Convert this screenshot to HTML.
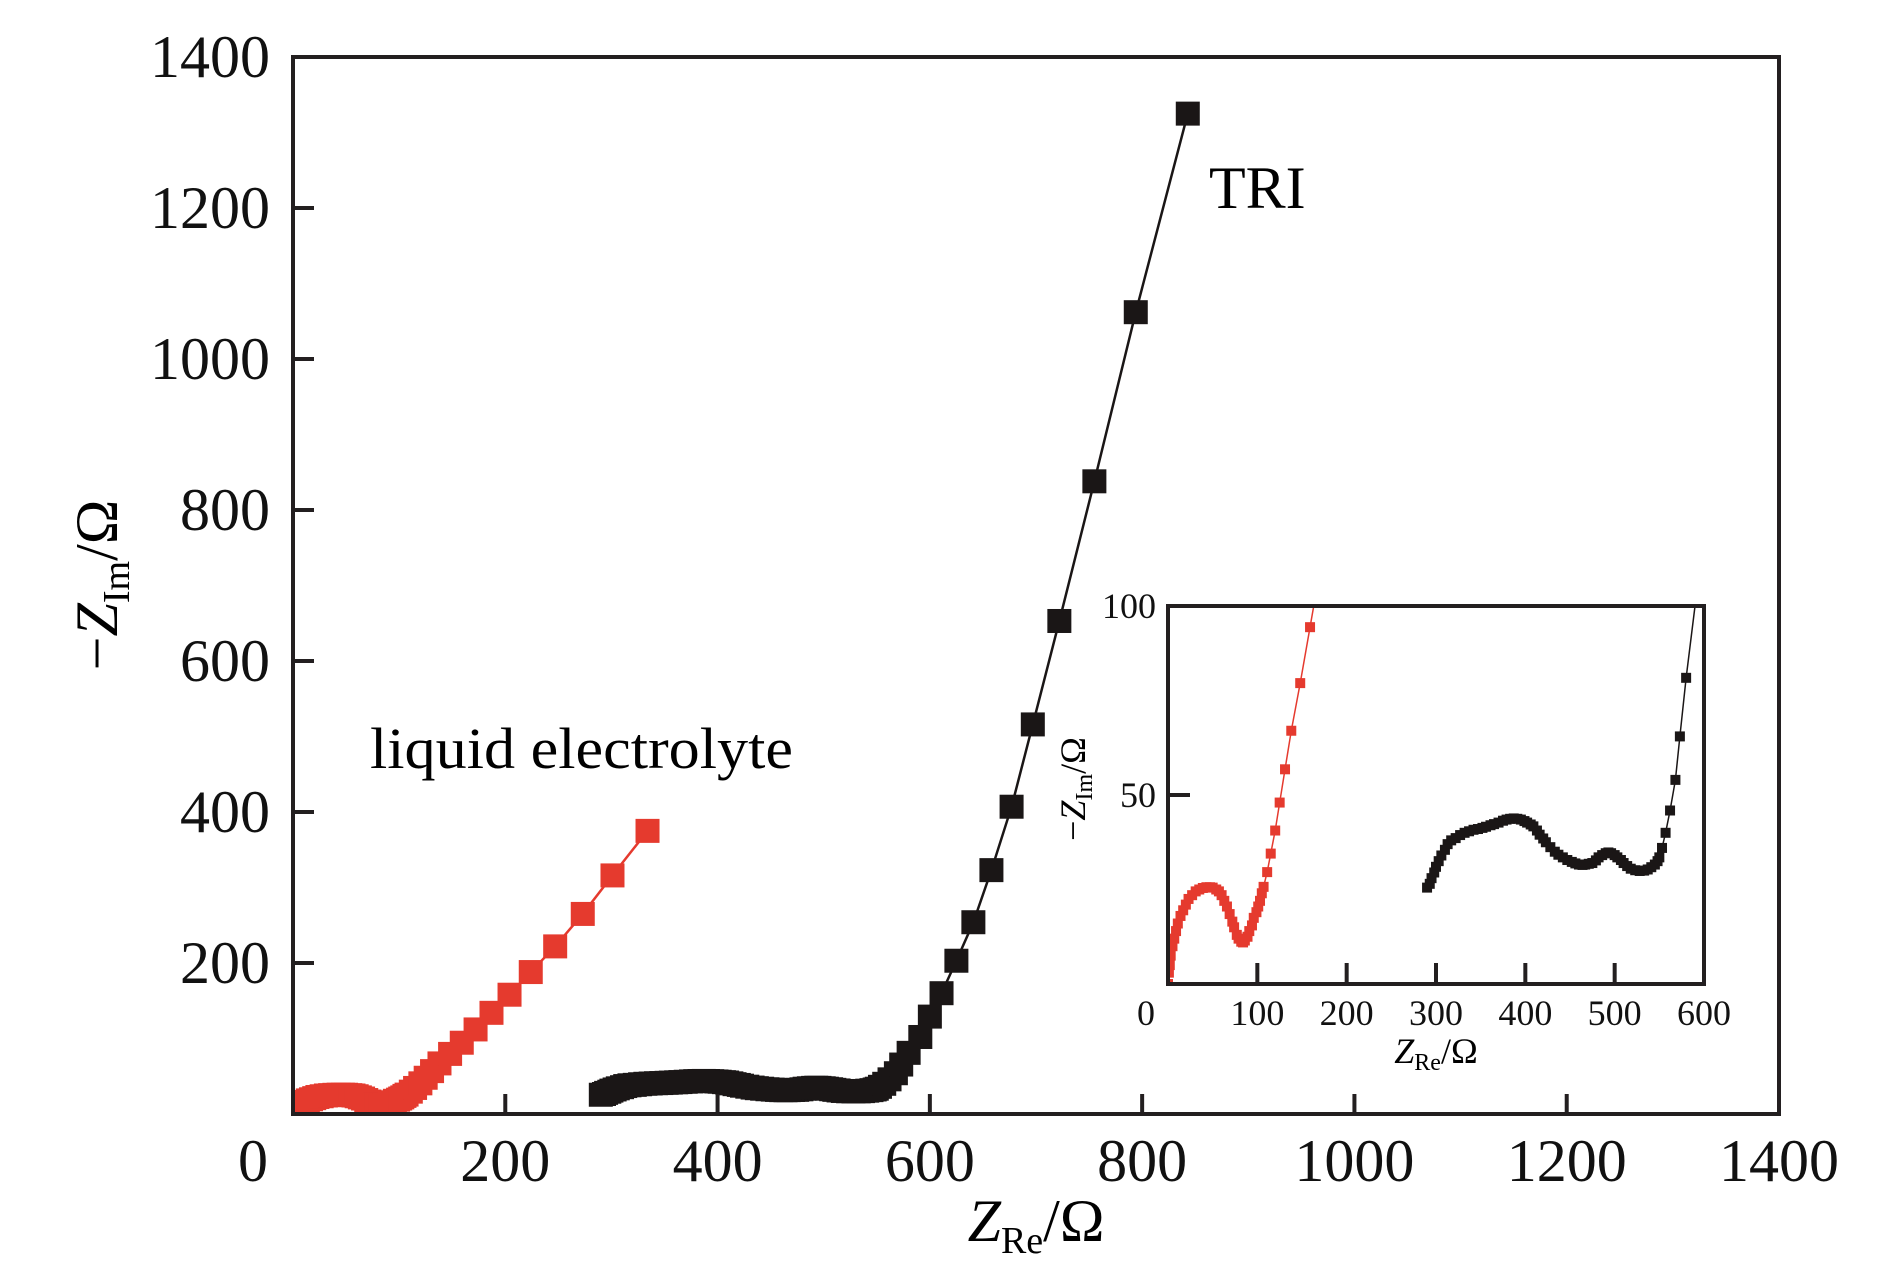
<!DOCTYPE html>
<html><head><meta charset="utf-8"><style>
html,body{margin:0;padding:0;background:#fff;}
svg{display:block;font-family:"Liberation Serif",serif;}
</style></head><body>
<svg id="chart" width="1890" height="1276" viewBox="0 0 1890 1276" xmlns="http://www.w3.org/2000/svg">
<g id="main"></g>
<g id="inset"></g>
<text x="1209" y="208" font-size="60">TRI</text>
<text x="370" y="768" font-size="58" textLength="423" lengthAdjust="spacingAndGlyphs">liquid electrolyte</text>
<text x="1036" y="1241" font-size="60" text-anchor="middle"><tspan font-style="italic">Z</tspan><tspan font-size="38" dy="12">Re</tspan><tspan dy="-12">/Ω</tspan></text>
<text transform="translate(117,585) rotate(-90)" font-size="60" text-anchor="middle">−<tspan font-style="italic">Z</tspan><tspan font-size="38" dy="12">Im</tspan><tspan dy="-12">/Ω</tspan></text>
<text x="1436" y="1063" font-size="36" text-anchor="middle"><tspan font-style="italic">Z</tspan><tspan font-size="24" dy="7">Re</tspan><tspan dy="-7">/Ω</tspan></text>
<text transform="translate(1085,789) rotate(-90)" font-size="36" text-anchor="middle">−<tspan font-style="italic">Z</tspan><tspan font-size="24" dy="7">Im</tspan><tspan dy="-7">/Ω</tspan></text>
</svg>
<script>
const xTicks=[0,200,400,600,800,1000,1200,1400];
const yTicks=[200,400,600,800,1000,1200,1400];
const insetXTicks=[0,100,200,300,400,500,600];
const insetYTicks=[0,50,100];
const redX=[0,1,2,3,5,7,9,11,14,17,20,23,27,31,35,39,43,47,50,54,57,60,63,66,69,72,74,77,79,82,84,86,89,91,94,96,99,101,103,105,107,111,115,120,125,131,138,148,159,172,187,204,224,247,273,301,334];
const redY=[0,3,5,7.5,10,12,14,16,18,19.5,21,22.5,23.5,24.5,25,25.4,25.6,25.6,25.5,25,24.5,23.5,22,20.5,18.5,16.5,15,13,12,11.2,11,11.5,12.5,14,15.5,17.5,19,20.5,22,24,25.7,29.6,34.5,40.6,48,56.8,67,79.6,94.4,112,134,158,188,222,265,316,375];
const blackX=[290,293,295,298,300,303,306,310,313,317,322,327,332,337,342,347,352,356,361,365,370,375,379,383,387,391,395,399,402,406,409,413,416,420,423,428,433,437,442,447,452,456,460,464,467,471,475,479,482,486,490,493,496,500,503,507,510,514,518,523,528,533,537,541,545,548,550,553,557,562,568,573,580,591,600,611,625,641,658,677,697,722,755,794,843];
const blackY=[25.5,26.5,28,29.5,31,32.5,34,35.5,37,38,38.6,39.4,40,40.4,40.8,41,41.3,41.6,42,42.3,42.7,43.2,43.5,43.7,43.8,43.7,43.5,43.1,42.7,42.2,41.7,40.6,39.5,38.5,37.5,36.2,35,34.2,33.5,32.8,32.3,31.9,31.6,31.5,31.6,31.8,32,32.7,33.5,34.1,34.6,34.8,34.6,34.1,33.5,32.8,32,31.2,30.5,30.1,29.9,30,30.3,30.9,31.6,32.5,33.5,36,40,45.9,54,65.5,81,102,129,160,203,254,323,407,516,653,838,1062,1325];

const NS='http://www.w3.org/2000/svg';
function mk(parent,tag,attrs){const e=document.createElementNS(NS,tag);for(const k in attrs)e.setAttribute(k,attrs[k]);parent.appendChild(e);return e;}

function drawPlot(g,box,xmax,ymax,xt,yt,ms,fs,tlx,tly,lw,isInset,labelOff){
  const sx=v=>box.l+(v/xmax)*(box.r-box.l);
  const sy=v=>box.b-(v/ymax)*(box.b-box.t);
  const cid=isInset?'clipI':'clipM';
  const cp=mk(g,'clipPath',{id:cid});
  mk(cp,'rect',{x:box.l,y:box.t,width:box.r-box.l,height:box.b-box.t});
  const bg=mk(g,'rect',{x:box.l,y:box.t,width:box.r-box.l,height:box.b-box.t,fill:'#fff'});
  
  
  const series=[[redX,redY,'#e53a2e','red'],[blackX,blackY,'#1a1616','black']];
  const sg=mk(g,'g',{'clip-path':'url(#'+cid+')'});
  series.forEach(([xs,ys,c,nm])=>{
    const pts=xs.map((x,i)=>sx(x)+','+sy(ys[i])).join(' ');
    const pl=mk(sg,'polyline',{points:pts,fill:'none',stroke:c,'stroke-width':lw});
    
    
    xs.forEach((x,i)=>{
      const r=mk(sg,'rect',{x:sx(x)-ms/2,y:sy(ys[i])-ms/2,width:ms,height:ms,fill:c});
      
      
    });
  });
  const fr=mk(g,'rect',{x:box.l,y:box.t,width:box.r-box.l,height:box.b-box.t,fill:'none',stroke:'#231f20','stroke-width':4});
  
  
  xt.forEach(v=>{
    if(v>0&&v<xmax){const t=mk(g,'line',{x1:sx(v),x2:sx(v),y1:box.b,y2:box.b-tlx,stroke:'#231f20','stroke-width':4});
      
      }
    const lx=v===0?sx(v)-labelOff:sx(v);
    const tx=mk(g,'text',{x:lx,y:isInset?1025:1181,'font-size':fs,'text-anchor':'middle',fill:'#111'});
    tx.textContent=v;
    
    
  });
  yt.forEach(v=>{
    if(v>0&&v<ymax){const t=mk(g,'line',{x1:box.l,x2:box.l+tly,y1:sy(v),y2:sy(v),stroke:'#231f20','stroke-width':4});
      
      }
    if(v===0)return;
    const tx=mk(g,'text',{x:isInset?1156:270,y:sy(v)+fs*0.33,'font-size':fs,'text-anchor':'end',fill:'#111'});
    tx.textContent=v;
    
    
  });
}
drawPlot(document.getElementById('main'),{l:293,r:1779,t:57,b:1114},1400,1400,xTicks,yTicks,24,60,20,21,2.5,false,40);
drawPlot(document.getElementById('inset'),{l:1168,r:1704,t:606,b:984},600,100,insetXTicks,insetYTicks,10,36,21,22,1.5,true,22);
</script>
</body></html>
